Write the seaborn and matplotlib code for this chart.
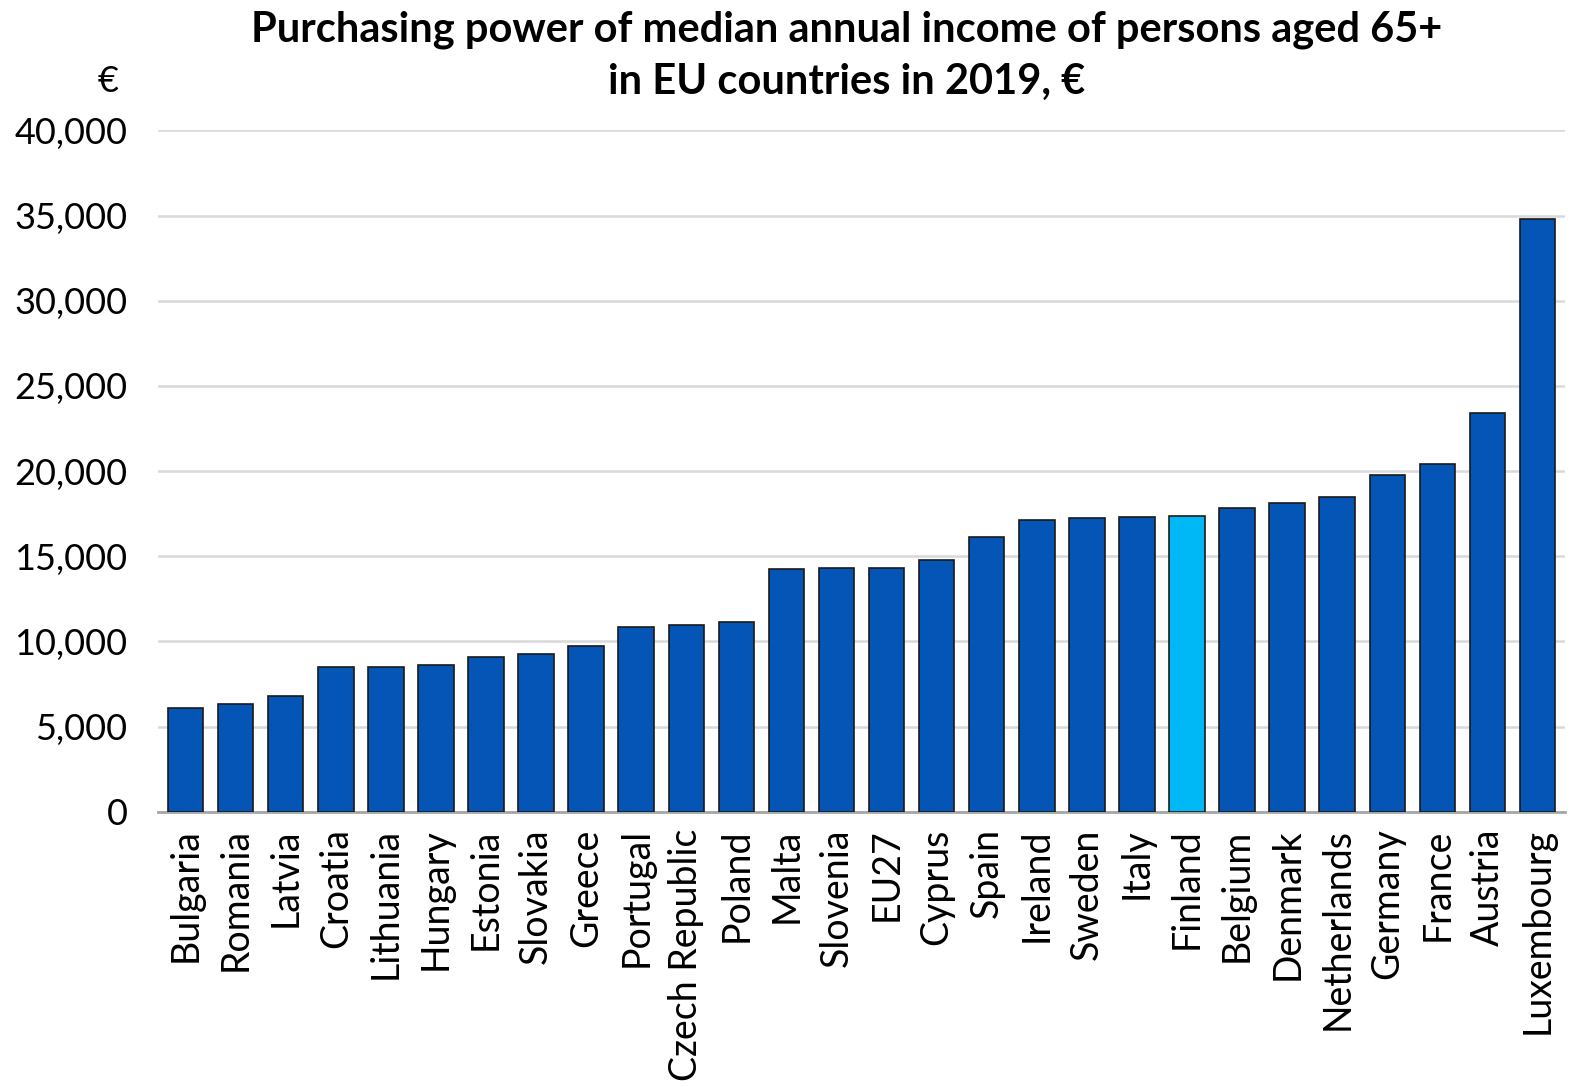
import matplotlib
matplotlib.use("Agg")
import pandas as pd
import matplotlib.pyplot as plt
import seaborn as sns
from matplotlib.ticker import FuncFormatter


# Data

countries = ["Bulgaria", "Romania", "Latvia", "Croatia", "Lithuania", "Hungary",
             "Estonia", "Slovakia", "Greece", "Portugal", "Czech Republic", "Poland",
             "Malta", "Slovenia", "EU27", "Cyprus", "Spain", "Ireland", "Sweden",
             "Italy", "Finland", "Belgium", "Denmark", "Netherlands", "Germany",
             "France", "Austria", "Luxembourg"]
income = [6080, 6330, 6770, 8470, 8510, 8630,
          9080, 9260, 9750, 10820, 10960, 11160,
          14220, 14280, 14320, 14790, 16120, 17120, 17230,
          17280, 17390, 17850, 18100, 18470, 19750,
          20430, 23390, 34800]
highlight = "Finland"

df = pd.DataFrame({"country": countries, "income": income})

dark_blue = "#0455B5"
light_blue = "#00B8F5"
palette = {c: (light_blue if c == highlight else dark_blue) for c in countries}


# Plot

sns.set_style("white")
plt.rcParams["font.family"] = ["Lato", "DejaVu Sans"]
plt.rcParams["text.color"] = "black"

fig = plt.figure(figsize=(15.85, 10.87), dpi=100)
ax = fig.add_axes([0.0997, 0.2533, 0.8877, 0.6267])

sns.barplot(data=df, x="country", y="income", hue="country", palette=palette,
            legend=False, width=0.71, edgecolor="#1a1a1a", linewidth=1.2,
            saturation=1, ax=ax, zorder=3)

ax.set_ylim(0, 40000)
ax.set_yticks(range(0, 40001, 5000))
ax.yaxis.set_major_formatter(FuncFormatter(lambda v, p: f"{int(v):,}"))
ax.set_xlim(-0.55, len(countries) - 0.45)

ax.grid(axis="y", color="#D9D9D9", linewidth=1.8, zorder=0)
for side in ["top", "right", "left"]:
    ax.spines[side].set_visible(False)
ax.spines["bottom"].set_color("#A6A6A6")
ax.spines["bottom"].set_linewidth(2)

ax.tick_params(axis="y", length=0, labelsize=26, pad=22, colors="black")
ax.tick_params(axis="x", length=0, labelsize=27, pad=12, colors="black")
plt.setp(ax.get_xticklabels(), rotation=90)
ax.set_xlabel("")
ax.set_ylabel("")

fig.text(0.068, 0.925, "€", fontsize=26, ha="center", va="center")
fig.text(0.534, 0.99, "Purchasing power of median annual income of persons aged 65+\nin EU countries in 2019, €",
         fontsize=30, fontweight="bold", ha="center", va="top", linespacing=1.45)

fig.savefig("out.png", dpi=100)
